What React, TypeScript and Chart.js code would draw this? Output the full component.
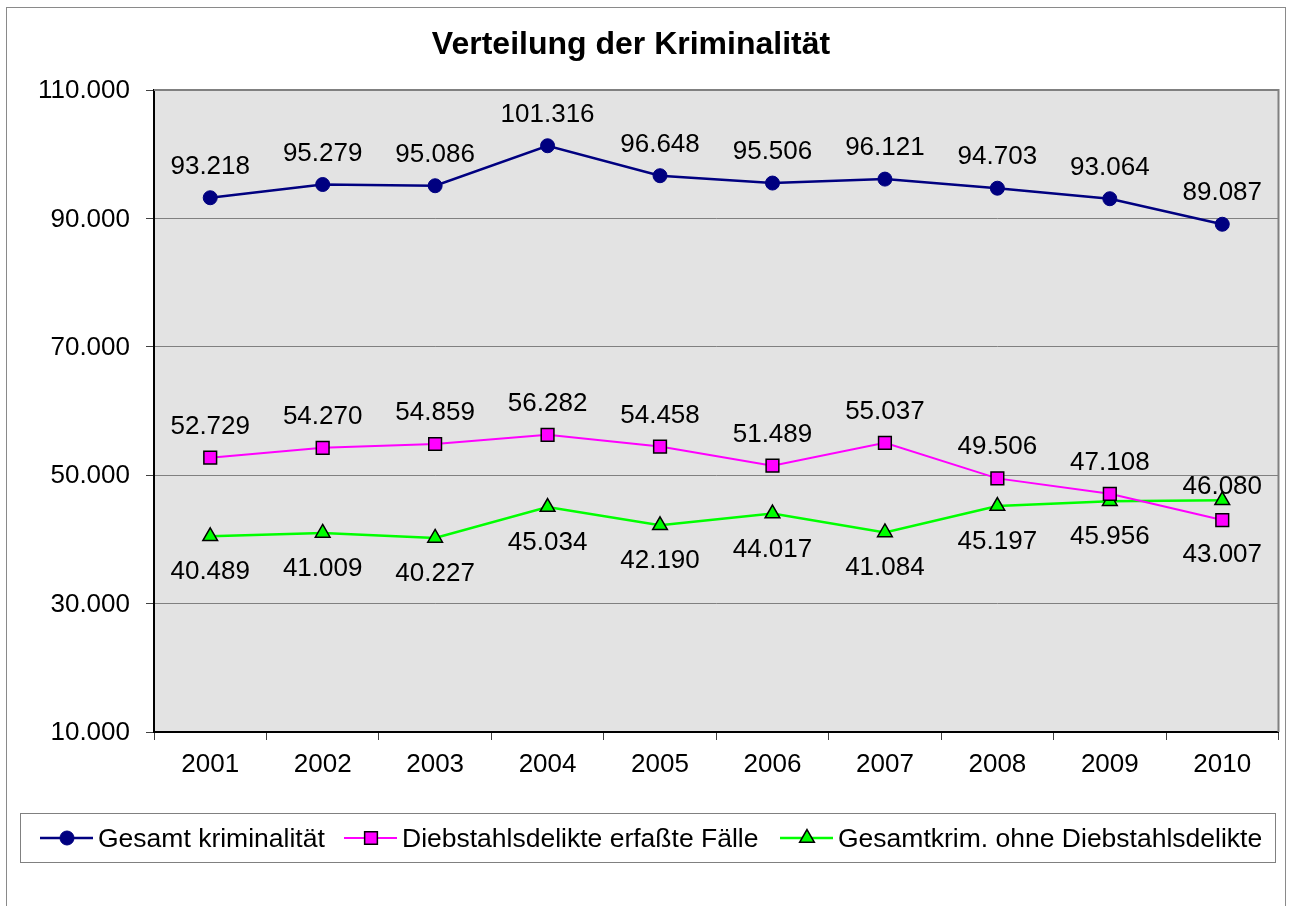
import React, { useEffect, useRef } from 'react';
import { Chart, registerables } from 'chart.js';

Chart.register(...registerables);

// ---- data ----
const years = ['2001', '2002', '2003', '2004', '2005', '2006', '2007', '2008', '2009', '2010'];
const gesamtKriminalitaet = [93218, 95279, 95086, 101316, 96648, 95506, 96121, 94703, 93064, 89087];
const diebstahlsdelikte = [52729, 54270, 54859, 56282, 54458, 51489, 55037, 49506, 47108, 43007];
const ohneDiebstahl = [40489, 41009, 40227, 45034, 42190, 44017, 41084, 45197, 45956, 46080];
const yTickValues = [10000, 30000, 50000, 70000, 90000, 110000];
const seriesNames = ['Gesamt kriminalität', 'Diebstahlsdelikte erfaßte Fälle', 'Gesamtkrim. ohne Diebstahlsdelikte'];
const titleText = 'Verteilung der Kriminalität';

// ---- label placement (baseline offset from point, px) ----
const ABOVE = -24;
const BELOW = 43;
const labelOffsets: number[][] = [
  [ABOVE, ABOVE, ABOVE, ABOVE, ABOVE, ABOVE, ABOVE, ABOVE, ABOVE, ABOVE],
  [ABOVE, ABOVE, ABOVE, ABOVE, ABOVE, ABOVE, ABOVE, ABOVE, ABOVE, BELOW - 1],
  [BELOW, BELOW, BELOW, BELOW, BELOW, BELOW, BELOW, BELOW, BELOW, -6],
];
// legend item start positions (px)
const legendItemX = [40, 344, 780];

const FONT = '"Liberation Sans", Arial, Helvetica, sans-serif';

function fmt(v: number): string {
  return String(Math.round(v)).replace(/\B(?=(\d{3})+(?!\d))/g, '.');
}

function drawMarker(ctx: CanvasRenderingContext2D, style: string, x: number, y: number, r: number, fill: string, stroke: string, bw: number) {
  ctx.save();
  ctx.beginPath();
  if (style === 'circle') {
    ctx.arc(x, y, r, 0, Math.PI * 2);
  } else if (style === 'rect') {
    const s = r * Math.SQRT1_2;
    ctx.rect(x - s, y - s, 2 * s, 2 * s);
  } else {
    let rad = 0;
    ctx.moveTo(x + Math.sin(rad) * r, y - Math.cos(rad) * r);
    rad += (2 * Math.PI) / 3;
    ctx.lineTo(x + Math.sin(rad) * r, y - Math.cos(rad) * r);
    rad += (2 * Math.PI) / 3;
    ctx.lineTo(x + Math.sin(rad) * r, y - Math.cos(rad) * r);
    ctx.closePath();
  }
  ctx.fillStyle = fill;
  ctx.fill();
  ctx.lineWidth = bw;
  ctx.strokeStyle = stroke;
  ctx.stroke();
  ctx.restore();
}

const backgroundPlugin = {
  id: 'bgPlot',
  beforeDraw(chart: any) {
    const { ctx, chartArea: a, width, height } = chart;
    ctx.save();
    ctx.fillStyle = '#ffffff';
    ctx.fillRect(0, 0, width, height);
    ctx.fillStyle = '#E3E3E3';
    ctx.fillRect(a.left, a.top, a.right - a.left, a.bottom - a.top);
    ctx.restore();
  },
};

const framePlugin = {
  id: 'frames',
  afterDraw(chart: any) {
    const { ctx, chartArea: a } = chart;
    ctx.save();
    // outer chart border
    ctx.strokeStyle = '#8a8a8a';
    ctx.lineWidth = 1;
    ctx.strokeRect(6.5, 7.5, 1279, 920);
    // plot area top/right border
    ctx.strokeStyle = '#808080';
    ctx.lineWidth = 2;
    ctx.beginPath();
    ctx.moveTo(a.left, a.top);
    ctx.lineTo(a.right, a.top);
    ctx.lineTo(a.right, a.bottom);
    ctx.stroke();
    // title
    ctx.fillStyle = '#000';
    ctx.font = `bold 32px ${FONT}`;
    ctx.textAlign = 'center';
    ctx.textBaseline = 'alphabetic';
    ctx.fillText(titleText, 631, 54);
    ctx.restore();
  },
};

const dataLabelPlugin = {
  id: 'dataLabels',
  afterDatasetsDraw(chart: any) {
    const { ctx } = chart;
    ctx.save();
    ctx.fillStyle = '#000';
    ctx.font = `26px ${FONT}`;
    ctx.textAlign = 'center';
    ctx.textBaseline = 'alphabetic';
    chart.data.datasets.forEach((ds: any, di: number) => {
      const meta = chart.getDatasetMeta(di);
      meta.data.forEach((pt: any, i: number) => {
        const v = ds.data[i] as number;
        ctx.fillText(fmt(v), pt.x, pt.y + labelOffsets[di][i]);
      });
    });
    ctx.restore();
  },
};

const legendPlugin = {
  id: 'customLegend',
  afterDraw(chart: any) {
    const { ctx } = chart;
    ctx.save();
    // box
    ctx.strokeStyle = '#808080';
    ctx.lineWidth = 1;
    ctx.strokeRect(20.5, 813.5, 1255, 49);
    ctx.font = `26.5px ${FONT}`;
    const symW = 53;
    const gapSym = 5;
    const cy = 838;
    chart.data.datasets.forEach((ds: any, i: number) => {
      const x = legendItemX[i];
      ctx.strokeStyle = ds.borderColor;
      ctx.lineWidth = ds.borderWidth;
      ctx.beginPath();
      ctx.moveTo(x, cy);
      ctx.lineTo(x + symW, cy);
      ctx.stroke();
      drawMarker(ctx, ds.pointStyle, x + 27, cy, ds.pointRadius, ds.pointBackgroundColor, ds.pointBorderColor, ds.pointBorderWidth);
      ctx.fillStyle = '#000';
      ctx.textAlign = 'left';
      ctx.textBaseline = 'alphabetic';
      ctx.fillText(ds.label, x + symW + gapSym, 847);
    });
    ctx.restore();
  },
};

export default function App() {
  const ref = useRef<HTMLCanvasElement>(null);

  useEffect(() => {
    const canvas = ref.current;
    if (!canvas) return;
    const chart = new Chart(canvas, {
      type: 'line',
      data: {
        labels: years,
        datasets: [
          {
            label: seriesNames[0],
            data: gesamtKriminalitaet,
            borderColor: '#000080',
            backgroundColor: '#000080',
            borderWidth: 2.5,
            pointStyle: 'circle',
            pointRadius: 7,
            pointBackgroundColor: '#000080',
            pointBorderColor: '#000080',
            pointBorderWidth: 1,
            tension: 0,
          },
          {
            label: seriesNames[1],
            data: diebstahlsdelikte,
            borderColor: '#FF00FF',
            backgroundColor: '#FF00FF',
            borderWidth: 2,
            pointStyle: 'rect',
            pointRadius: 9,
            pointBackgroundColor: '#FF00FF',
            pointBorderColor: '#000000',
            pointBorderWidth: 1.5,
            tension: 0,
          },
          {
            label: seriesNames[2],
            data: ohneDiebstahl,
            borderColor: '#00FF00',
            backgroundColor: '#00FF00',
            borderWidth: 2.5,
            pointStyle: 'triangle',
            pointRadius: 8.5,
            pointBackgroundColor: '#00FF00',
            pointBorderColor: '#000000',
            pointBorderWidth: 1.5,
            tension: 0,
          },
        ],
      } as any,
      options: {
        responsive: false,
        animation: false,
        layout: { padding: { left: 0, right: 10, top: 90, bottom: 0 } },
        plugins: {
          legend: { display: false },
          title: { display: false },
          tooltip: { enabled: false },
        },
        scales: {
          x: {
            offset: true,
            grid: {
              offset: true,
              drawOnChartArea: false,
              drawTicks: true,
              tickLength: 8,
              color: '#404040',
              lineWidth: 1,
            },
            border: { color: '#000000', width: 2 },
            ticks: {
              font: { family: FONT, size: 26 },
              color: '#000',
              padding: 9,
              maxRotation: 0,
              autoSkip: false,
            },
            afterFit: (s: any) => {
              s.height = 174;
            },
          },
          y: {
            min: 10000,
            max: 110000,
            afterBuildTicks: (s: any) => {
              s.ticks = yTickValues.map((v) => ({ value: v }));
            },
            grid: {
              color: '#808080',
              lineWidth: 1,
              tickLength: 8,
              tickColor: '#404040',
            },
            border: { color: '#000000', width: 2 },
            ticks: {
              font: { family: FONT, size: 26 },
              color: '#000',
              padding: 16,
              labelOffset: 1,
              callback: (v: any) => fmt(Number(v)),
            },
            afterFit: (s: any) => {
              s.width = 154;
            },
          },
        },
      } as any,
      plugins: [backgroundPlugin, dataLabelPlugin, framePlugin, legendPlugin],
    });
    return () => chart.destroy();
  }, []);

  return (
    <div style={{ position: 'fixed', left: 0, top: 0, width: 1289, height: 906, background: '#fff' }}>
      <canvas ref={ref} width={1289} height={906} style={{ display: 'block', width: 1289, height: 906 }} />
    </div>
  );
}
